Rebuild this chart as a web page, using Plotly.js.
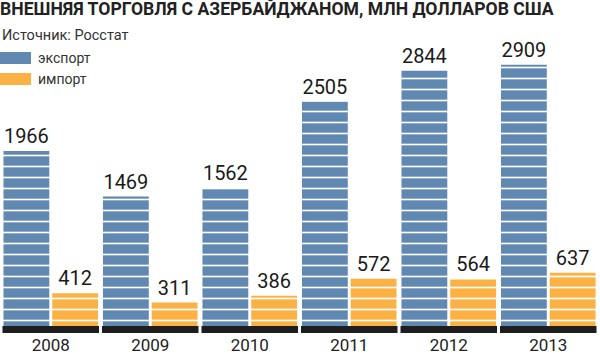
<!DOCTYPE html>
<html><head><meta charset="utf-8">
<script src="https://cdn.plot.ly/plotly-3.0.1.min.js"></script>
<style>html,body{margin:0;padding:0;background:#fff}#chart{width:600px;height:356px}</style>
</head><body><div id="chart"></div>
<script>
const years = ['2008','2009','2010','2011','2012','2013'];
const exportValues = [1966, 1469, 1562, 2505, 2844, 2909];
const importValues = [412, 311, 386, 572, 564, 637];
const seriesNames = ['экспорт', 'импорт'];
const titleText = 'ВНЕШНЯЯ ТОРГОВЛЯ С АЗЕРБАЙДЖАНОМ, МЛН ДОЛЛАРОВ США';
const sourceText = 'Источник: Росстат';

const W = 600, H = 356, M = {l: 1, r: 2, t: 40, b: 23};
const blue = '#6088b1', orange = '#fbb144', dark = '#1e1e1e';
const colors = [blue, orange];
const px = x => (x - M.l) / (W - M.l - M.r);
const py = y => (H - M.b - y) / (H - M.t - M.b);

function barTrace(vals, name, color) {
  return {
    type: 'bar', x: years, y: vals, name: name,
    text: vals.map(String), textposition: 'outside',
    textfont: {family: 'Roboto', size: 20, weight: 400, color: '#1a1a1a'},
    marker: {color: color, line: {width: 0},
      pattern: {shape: '-', fgcolor: '#ffffff', bgcolor: color, size: 11, solidity: 0.15}},
    cliponaxis: false, hoverinfo: 'skip', showlegend: false
  };
}

const data = [barTrace(exportValues, seriesNames[0], blue), barTrace(importValues, seriesNames[1], orange)];

const shapes = years.map((y, i) => ({
  type: 'rect', xref: 'x', yref: 'y', x0: i - 0.485, x1: i + 0.485, y0: -22, y1: 55,
  fillcolor: dark, line: {width: 0}, layer: 'above'
}));
// legend swatches
const legendTop = [52, 73];
seriesNames.forEach((n, k) => {
  shapes.push({type: 'rect', xref: 'paper', yref: 'paper',
    x0: px(0), x1: px(31), y0: py(legendTop[k] + 12), y1: py(legendTop[k]),
    fillcolor: colors[k], line: {width: 0}});
});

const annotations = [
  {text: sourceText, xref: 'paper', yref: 'paper', x: px(0), y: py(25), xanchor: 'left', yanchor: 'top',
   showarrow: false, font: {family: 'Roboto', size: 14.5, color: '#333'}}
];
seriesNames.forEach((n, k) => {
  annotations.push({text: n, xref: 'paper', yref: 'paper', x: px(36), y: py(legendTop[k] + 6),
    xanchor: 'left', yanchor: 'middle', showarrow: false,
    font: {family: 'Roboto', size: 14, color: '#333'}});
});

const layout = {
  width: W, height: H, margin: M,
  paper_bgcolor: '#fff', plot_bgcolor: '#fff',
  title: {text: titleText, x: 0, xref: 'container', xanchor: 'left', y: 0.992, yref: 'container', yanchor: 'top',
    pad: {l: 0, t: 0}, font: {family: 'Roboto', size: 17.6, weight: 700, color: '#222'}},
  barmode: 'group', bargap: 0.02, bargroupgap: 0.06,
  xaxis: {type: 'category', range: [-0.5, 5.5], showgrid: false, zeroline: false, showline: false, ticks: '',
    tickfont: {family: 'Roboto', size: 17, color: '#222'}, ticklabelstandoff: 0, fixedrange: true},
  yaxis: {range: [-22, 3180], visible: false, fixedrange: true},
  shapes: shapes, annotations: annotations, showlegend: false
};

Plotly.newPlot('chart', data, layout, {staticPlot: true, displayModeBar: false});
</script></body></html>
